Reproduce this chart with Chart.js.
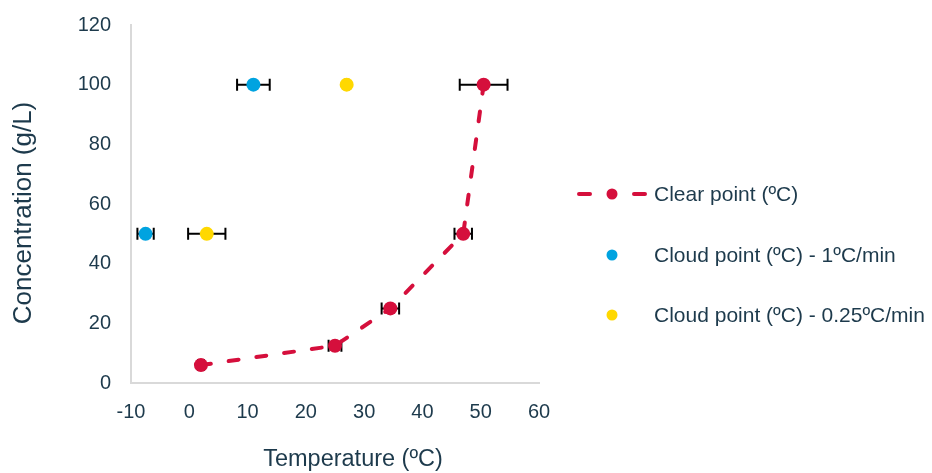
<!DOCTYPE html>
<html>
<head>
<meta charset="utf-8">
<script src="https://cdn.jsdelivr.net/npm/chart.js@4.4.1/dist/chart.umd.min.js"></script>
<style>
  html, body { margin: 0; padding: 0; background: #fff; }
</style>
</head>
<body>
<canvas id="chart" width="932" height="473"></canvas>
<script>
// ── Data ────────────────────────────────────────────────────────────────────
const clearTemp = [2, 25, 34.5, 47, 50.5];
const clearConc = [6, 12.5, 25, 50, 100];
const clearErr  = [0.5, 1.1, 1.5, 1.5, 4.1];

const fastTemp = [-7.5, 11];
const fastConc = [50, 100];
const fastErr  = [1.4, 2.8];

const slowTemp = [3, 27];
const slowConc = [50, 100];
const slowErr  = [3.2, 0.3];

const seriesLabels = [
  'Clear point (ºC)',
  'Cloud point (ºC) - 1ºC/min',
  'Cloud point (ºC) - 0.25ºC/min',
];
const xTitle = 'Temperature (ºC)';
const yTitle = 'Concentration (g/L)';

// ── Styling ─────────────────────────────────────────────────────────────────
const textColor = '#1d3a4c';
const axisColor = '#d9d9d9';
const red    = '#d50f3c';
const blue   = '#00a3e0';
const yellow = '#ffd800';
const fontFamily = '"Liberation Sans", Arial, sans-serif';

const toPoints = (xs, ys) => xs.map((x, i) => ({ x, y: ys[i] }));

// horizontal error bars, drawn under the markers
const errorBars = {
  id: 'errorBars',
  beforeDatasetsDraw(chart) {
    const { ctx, scales: { x, y } } = chart;
    ctx.save();
    ctx.strokeStyle = '#000';
    ctx.lineWidth = 2;
    chart.data.datasets.forEach(ds => {
      (ds.errX || []).forEach((e, i) => {
        if (!e) return;
        const p = ds.data[i];
        const x0 = x.getPixelForValue(p.x - e);
        const x1 = x.getPixelForValue(p.x + e);
        const py = y.getPixelForValue(p.y);
        ctx.beginPath();
        ctx.moveTo(x0, py); ctx.lineTo(x1, py);
        ctx.moveTo(x0, py - 6); ctx.lineTo(x0, py + 6);
        ctx.moveTo(x1, py - 6); ctx.lineTo(x1, py + 6);
        ctx.stroke();
      });
    });
    ctx.restore();
  },
};

// axis titles placed like the spreadsheet original (slightly off the plot centre)
const axisTitles = {
  id: 'axisTitles',
  afterDraw(chart) {
    const { ctx } = chart;
    ctx.save();
    ctx.fillStyle = textColor;
    ctx.textAlign = 'center';
    ctx.textBaseline = 'middle';
    ctx.font = '23.5px ' + fontFamily;
    ctx.fillText(xTitle, 353, 460);
    ctx.translate(24, 213);
    ctx.rotate(-Math.PI / 2);
    ctx.font = '26px ' + fontFamily;
    ctx.fillText(yTitle, 0, 0);
    ctx.restore();
  },
};

// legend on the right: dashed line + marker for the first series, dots for the rest
const sideLegend = {
  id: 'sideLegend',
  afterDraw(chart) {
    const { ctx } = chart;
    const rows = [194, 255, 315];
    ctx.save();
    ctx.font = '21px ' + fontFamily;
    ctx.textBaseline = 'middle';
    chart.data.datasets.forEach((ds, i) => {
      const yy = rows[i];
      if (ds.showLine) {
        ctx.strokeStyle = ds.borderColor;
        ctx.lineWidth = 4;
        ctx.lineCap = 'round';
        ctx.beginPath();
        ctx.moveTo(579, yy); ctx.lineTo(590, yy);
        ctx.moveTo(634, yy); ctx.lineTo(645, yy);
        ctx.stroke();
      }
      ctx.fillStyle = ds.backgroundColor;
      ctx.beginPath();
      ctx.arc(612, yy, 5.5, 0, Math.PI * 2);
      ctx.fill();
      ctx.fillStyle = textColor;
      ctx.fillText(ds.label, 654, yy + 1);
    });
    ctx.restore();
  },
};

new Chart(document.getElementById('chart'), {
  type: 'scatter',
  data: {
    datasets: [
      {
        label: seriesLabels[0],
        data: toPoints(clearTemp, clearConc),
        errX: clearErr,
        showLine: true,
        borderColor: red,
        backgroundColor: red,
        borderWidth: 4,
        borderDash: [10, 18],
        borderCapStyle: 'round',
        pointRadius: 7,
        pointBorderWidth: 0,
        tension: 0,
      },
      {
        label: seriesLabels[1],
        data: toPoints(fastTemp, fastConc),
        errX: fastErr,
        borderColor: blue,
        backgroundColor: blue,
        pointRadius: 7,
        pointBorderWidth: 0,
      },
      {
        label: seriesLabels[2],
        data: toPoints(slowTemp, slowConc),
        errX: slowErr,
        borderColor: yellow,
        backgroundColor: yellow,
        pointRadius: 7,
        pointBorderWidth: 0,
      },
    ],
  },
  options: {
    responsive: false,
    animation: false,
    layout: { padding: { top: 25, right: 393, bottom: 0, left: 0 } },
    plugins: {
      legend: { display: false },
      tooltip: { enabled: false },
    },
    scales: {
      x: {
        type: 'linear',
        min: -10, max: 60,
        grid: { display: false, drawTicks: true, tickLength: 9 },
        border: { display: true, color: axisColor, width: 2 },
        ticks: { stepSize: 10, padding: 8, color: textColor, font: { size: 20, family: fontFamily } },
        afterFit(scale) { scale.height = 90; },
      },
      y: {
        min: 0, max: 120,
        grid: { display: false, drawTicks: true, tickLength: 12 },
        border: { display: true, color: axisColor, width: 2 },
        ticks: { stepSize: 20, padding: 8, color: textColor, font: { size: 20, family: fontFamily } },
        afterFit(scale) { scale.width = 131; },
      },
    },
  },
  plugins: [errorBars, axisTitles, sideLegend],
});
</script>
</body>
</html>
